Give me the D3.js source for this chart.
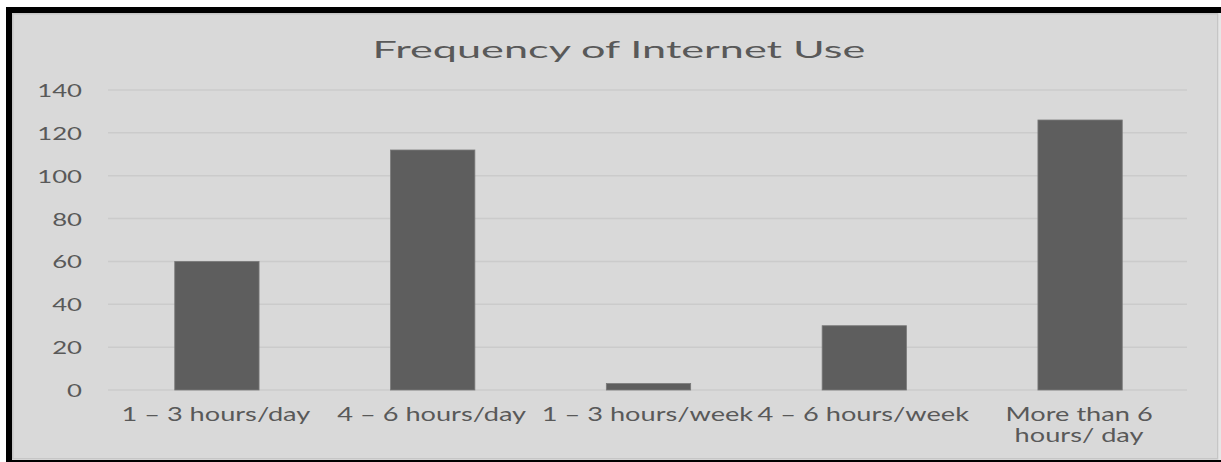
<!DOCTYPE html>
<html>
<head>
<meta charset="utf-8">
<script src="https://cdn.jsdelivr.net/npm/d3@7"></script>
<style>
  html, body { margin: 0; padding: 0; background: #ffffff; overflow: hidden; }
  svg { display: block; font-family: Lato, "Open Sans", sans-serif; }
</style>
</head>
<body>
<svg id="chart" width="1221" height="462"></svg>
<script>
// Chart data
const title = "Frequency of Internet Use";
const categories = [
  ["1 \u2013 3 hours/day"],
  ["4 \u2013 6 hours/day"],
  ["1 \u2013 3 hours/week"],
  ["4 \u2013 6 hours/week"],
  ["More than 6", "hours/ day"]
];
const values = [60, 112, 3, 30, 126];
const yTicks = [0, 20, 40, 60, 80, 100, 120, 140];

// Layout
const W = 1221, H = 462;
const plot = { left: 108, right: 1187, top: 90, bottom: 390 };
const STRETCH = 1.43;         // horizontal widening of axis text
const TITLE_STRETCH = 1.8;    // horizontal widening of the title
const textColor = "#595959";

const svg = d3.select("#chart");

// Frame: black border with light grey chart area inside
svg.append("rect").attr("x", 0).attr("y", 0).attr("width", W).attr("height", H).attr("fill", "#ffffff");
svg.append("rect").attr("x", 6).attr("y", 7).attr("width", W - 6).attr("height", H - 7).attr("fill", "#000000");
svg.append("rect").attr("x", 12).attr("y", 13).attr("width", W - 12).attr("height", H - 15).attr("fill", "#e4e4e4");
svg.append("rect").attr("x", 12.75).attr("y", 13.75).attr("width", 1205).attr("height", 445)
  .attr("fill", "#d9d9d9").attr("stroke", "#c6c6c6").attr("stroke-width", 1.5);
svg.append("rect").attr("x", 1218.5).attr("y", 13).attr("width", 2.5).attr("height", H - 15).attr("fill", "#e6e6e6");

const x = d3.scaleBand()
  .domain(categories.map((c, i) => i))
  .range([plot.left, plot.right])
  .paddingInner(0.6)
  .paddingOuter(0.3);

const y = d3.scaleLinear().domain([0, 140]).range([plot.bottom, plot.top]);

// Widen a text element horizontally around its anchor
function stretch(sel, k) {
  sel.each(function () {
    const len = this.getComputedTextLength();
    d3.select(this).attr("textLength", len * k).attr("lengthAdjust", "spacingAndGlyphs");
  });
}

// Gridlines
svg.append("g")
  .selectAll("line")
  .data(yTicks)
  .join("line")
  .attr("x1", plot.left).attr("x2", plot.right)
  .attr("y1", d => y(d)).attr("y2", d => y(d))
  .attr("stroke", "#cbcbcb").attr("stroke-width", 1.5);

// Y axis labels
const yAxis = d3.axisLeft(y).tickValues(yTicks).tickSize(0).tickPadding(0);
const gy = svg.append("g").attr("transform", "translate(82,0)").call(yAxis);
gy.select(".domain").remove();
gy.selectAll("text")
  .attr("fill", textColor)
  .attr("font-size", 18)
  .attr("font-family", "Lato, sans-serif")
  .attr("dy", "0.36em")
  .call(stretch, STRETCH);

// Bars
svg.append("g")
  .selectAll("rect")
  .data(values)
  .join("rect")
  .attr("x", (d, i) => x(i) + 2)
  .attr("width", x.bandwidth() - 2)
  .attr("y", d => y(d))
  .attr("height", d => y(0) - y(d))
  .attr("fill", "#5e5e5e")
  .attr("stroke", "#7a7a7a")
  .attr("stroke-width", 0.8);

// Category labels
const gx = svg.append("g");
categories.forEach((lines, i) => {
  const cx = x(i) + x.bandwidth() / 2;
  lines.forEach((ln, j) => {
    gx.append("text")
      .attr("x", cx)
      .attr("y", 421 + j * 21)
      .attr("text-anchor", "middle")
      .attr("fill", textColor)
      .attr("font-size", 19)
      .text(ln)
      .call(stretch, STRETCH);
  });
});

// Title
svg.append("text")
  .attr("x", 619)
  .attr("y", 58)
  .attr("text-anchor", "middle")
  .attr("fill", textColor)
  .attr("font-size", 24)
  .text(title)
  .call(stretch, TITLE_STRETCH);
</script>
</body>
</html>
